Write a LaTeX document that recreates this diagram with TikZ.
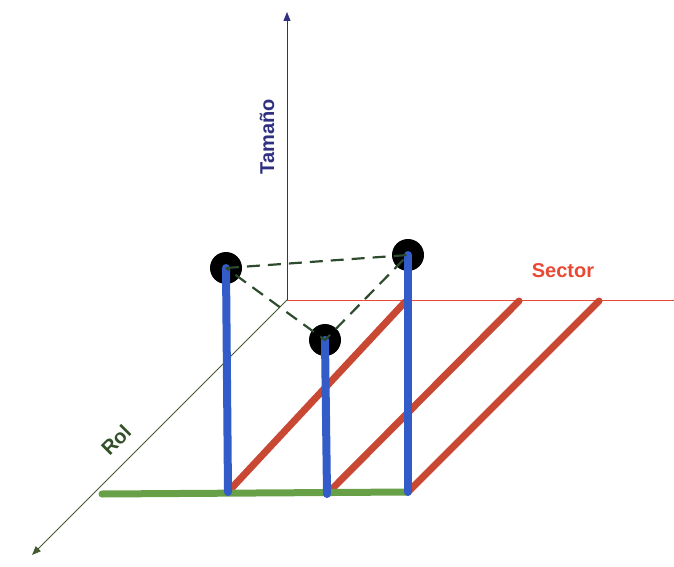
\documentclass[tikz,border=0pt]{standalone}
\usepackage{fontspec}
\setmainfont{Liberation Sans}
\usetikzlibrary{arrows.meta}
\definecolor{polblue}{RGB}{52,92,200}
\definecolor{rodred}{RGB}{200,72,52}
\definecolor{basegreen}{RGB}{104,160,72}
\definecolor{axblue}{RGB}{48,48,130}
\definecolor{axred}{RGB}{232,72,52}
\definecolor{axgreen}{RGB}{70,90,50}
\definecolor{txtgreen}{RGB}{50,80,40}
\definecolor{dashgreen}{RGB}{45,75,45}
\tikzset{
  axisline/.style={line width=0.9pt},
  pole/.style={polblue, line width=8pt, line cap=round},
  rod/.style={rodred, line width=7pt, line cap=round},
  baseline/.style={basegreen, line width=7pt, line cap=round},
  ball/.style={circle, fill=black, minimum size=32pt, inner sep=0pt},
  tri/.style={dashgreen, line width=2.2pt, dash pattern=on 13pt off 8pt},
  lbl/.style={font=\bfseries\fontsize{20}{22}\selectfont, inner sep=0pt}
}
\begin{document}
\begin{tikzpicture}[x=1pt,y=-1pt]
\useasboundingbox (0,0) rectangle (674,567);
% axes
\coordinate (O) at (287,300);
\coordinate (Ztop) at (287,12);
\coordinate (Xend) at (674,300);
\coordinate (Yend) at (32,555);
\draw[axisline, axblue, -{Triangle[length=9pt,width=7pt]}] (O) -- (Ztop);
\draw[axisline, axred] (O) -- (Xend);
\draw[axisline, axgreen, -{Triangle[length=9pt,width=7pt]}] (O) -- (Yend);
% labels
\node[lbl, axblue, rotate=90] (tam) at (267,137) {Tamaño};
\node[lbl, axred] (sec) at (563,271) {Sector};
\node[lbl, txtgreen, rotate=45] (rol) at (116,440) {Rol};
% base points
\coordinate (G0) at (102,494);
\coordinate (B1) at (228,492);
\coordinate (B2) at (327,494);
\coordinate (B3) at (408,492);
\coordinate (S1) at (405,302);
\coordinate (S2) at (519,301);
\coordinate (S3) at (599,301);
% red rods
\draw[rod] (B1) -- (S1);
\draw[rod] (B2) -- (S2);
\draw[rod] (B3) -- (S3);
% green base
\draw[baseline] (G0) -- (B3);
% balls
\node[ball] (P1) at (226,268) {};
\node[ball] (P2) at (325,340) {};
\node[ball] (P3) at (408,255) {};
% poles
\draw[pole] (B1) -- (P1.center);
\draw[pole] (B2) -- (P2.center);
\draw[pole] (B3) -- (P3.center);
% dashed triangle
\draw[tri] (P1.center) -- (P3.center) -- (P2.center) -- cycle;
\end{tikzpicture}
\end{document}
